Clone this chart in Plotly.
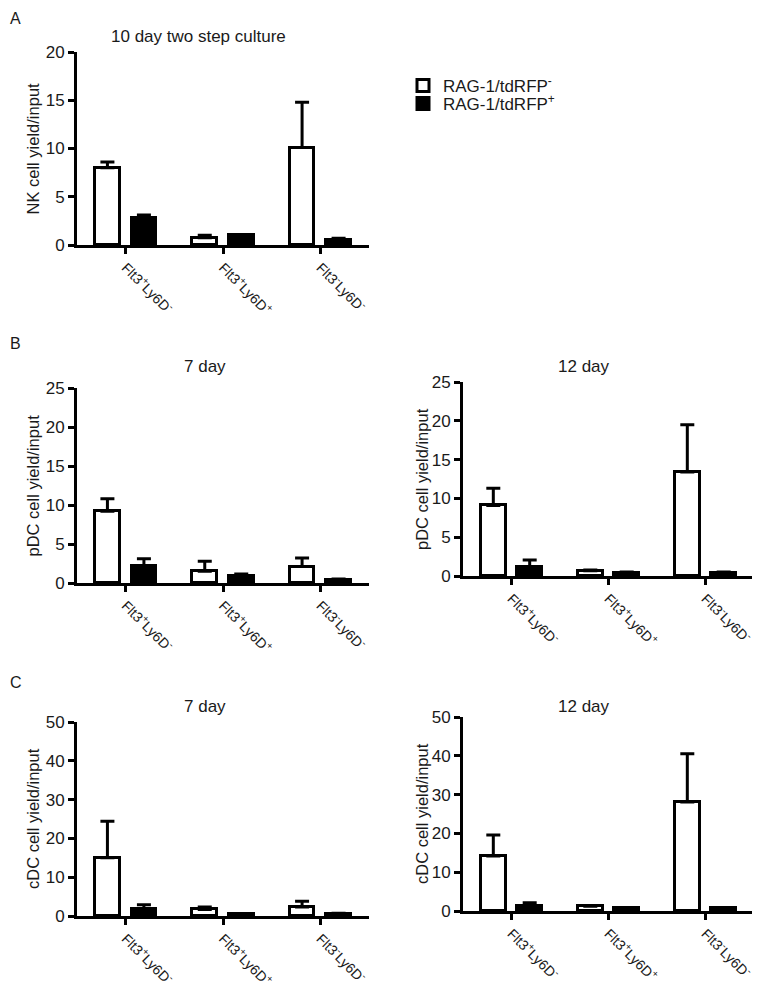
import plotly.graph_objects as go

# ---------------- data ----------------
categories = ["Flt3<sup>+</sup>Ly6D<sup>-</sup>",
              "Flt3<sup>+</sup>Ly6D<sup>+</sup>",
              "Flt3<sup>-</sup>Ly6D<sup>-</sup>"]
series_names = ["RAG-1/tdRFP<sup>-</sup>", "RAG-1/tdRFP<sup>+</sup>"]

nk_neg = [8.0, 0.76, 10.1]
nk_neg_err = [0.6, 0.25, 4.7]
nk_pos = [2.8, 1.05, 0.5]
nk_pos_err = [0.3, 0.05, 0.2]

pdc7_neg = [9.2, 1.5, 2.1]
pdc7_neg_err = [1.6, 1.3, 1.1]
pdc7_pos = [2.2, 0.85, 0.4]
pdc7_pos_err = [0.9, 0.3, 0.1]

pdc12_neg = [9.1, 0.68, 13.4]
pdc12_neg_err = [2.2, 0.1, 6.1]
pdc12_pos = [1.1, 0.43, 0.4]
pdc12_pos_err = [0.95, 0.07, 0.1]

cdc7_neg = [15.0, 1.7, 2.3]
cdc7_neg_err = [9.4, 0.6, 1.5]
cdc7_pos = [1.7, 0.5, 0.5]
cdc7_pos_err = [1.2, 0.1, 0.2]

cdc12_neg = [14.2, 1.2, 28.1]
cdc12_neg_err = [5.4, 0.2, 12.4]
cdc12_pos = [1.3, 0.7, 0.7]
cdc12_pos_err = [0.8, 0.1, 0.1]

panel_titles = ["10 day two step culture", "7 day", "12 day", "7 day", "12 day"]
y_titles = ["NK cell yield/input", "pDC cell yield/input", "pDC cell yield/input",
            "cDC cell yield/input", "cDC cell yield/input"]
y_max = [20, 25, 25, 50, 50]
y_dtick = [5, 5, 5, 10, 10]
panel_letters = ["A", "B", "C"]

panels = [
    (nk_neg, nk_neg_err, nk_pos, nk_pos_err),
    (pdc7_neg, pdc7_neg_err, pdc7_pos, pdc7_pos_err),
    (pdc12_neg, pdc12_neg_err, pdc12_pos, pdc12_pos_err),
    (cdc7_neg, cdc7_neg_err, cdc7_pos, cdc7_pos_err),
    (cdc12_neg, cdc12_neg_err, cdc12_pos, cdc12_pos_err),
]

# ---------------- layout geometry (figure pixels) ----------------
W, H = 760, 990
# (x0, x1, ytop, ybottom)
boxes = [
    (69, 361, 44, 237),
    (69, 361, 380, 575),
    (455, 746, 374, 568),
    (69, 361, 714, 908),
    (455, 746, 709, 903),
]
title_pos = [(190, 29), (197, 358), (576, 358), (197, 698), (576, 698)]
ytitle_x = [25, 25, 414, 25, 414]
# (y pixel, anchor) for panel letters
letter_pos = [(0, "top"), (335, "middle"), (674, "middle")]

FONT = "Arial, Liberation Sans, Helvetica, sans-serif"
INK = "#1a1a1a"

fig = go.Figure()
annotations = []
layout_axes = {}

BW = 0.255
for i, (neg, neg_err, pos, pos_err) in enumerate(panels):
    n = i + 1
    xa = "x" if n == 1 else f"x{n}"
    ya = "y" if n == 1 else f"y{n}"
    fig.add_trace(go.Bar(
        x=categories, y=neg, xaxis=xa, yaxis=ya,
        name=series_names[0], showlegend=(i == 0), legend="legend",
        width=BW, offset=-0.315,
        marker=dict(color="white", line=dict(color="black", width=3)),
        error_y=dict(type="data", array=neg_err, arrayminus=[0] * 3, symmetric=False,
                     color="black", thickness=3, width=7),
    ))
    fig.add_trace(go.Bar(
        x=categories, y=pos, xaxis=xa, yaxis=ya,
        name=series_names[1], showlegend=(i == 0), legend="legend2",
        width=BW, offset=0.06,
        marker=dict(color="black", line=dict(color="black", width=3)),
        error_y=dict(type="data", array=pos_err, arrayminus=[0] * 3, symmetric=False,
                     color="black", thickness=3, width=7),
    ))
    x0, x1, yt, yb = boxes[i]
    xkey = "xaxis" if n == 1 else f"xaxis{n}"
    ykey = "yaxis" if n == 1 else f"yaxis{n}"
    layout_axes[xkey] = dict(
        domain=[x0 / W, x1 / W], anchor=ya, range=[-0.5, 2.5], automargin=False,
        showline=True, linecolor="black", linewidth=3,
        ticks="outside", ticklen=6, tickwidth=2.5, tickcolor="black",
        tickangle=45, tickfont=dict(family=FONT, size=14, color=INK),
        showgrid=False, zeroline=False, fixedrange=True,
    )
    layout_axes[ykey] = dict(
        domain=[1 - yb / H, 1 - yt / H], anchor=xa, range=[0, y_max[i]], dtick=y_dtick[i],
        automargin=False,
        showline=True, linecolor="black", linewidth=3,
        ticks="outside", ticklen=6, tickwidth=2.5, tickcolor="black",
        tickfont=dict(family=FONT, size=17, color=INK),
        showgrid=False, zeroline=False, fixedrange=True,
    )
    tx, ty = title_pos[i]
    annotations.append(dict(text=panel_titles[i], x=tx / W, y=1 - ty / H, xref="paper", yref="paper",
                            xanchor="center", yanchor="middle", showarrow=False,
                            font=dict(family=FONT, size=17, color=INK)))
    annotations.append(dict(text=y_titles[i], x=ytitle_x[i] / W, y=1 - (yt + yb) / 2 / H,
                            xref="paper", yref="paper", textangle=-90,
                            xanchor="center", yanchor="middle", showarrow=False,
                            font=dict(family=FONT, size=16.5, color=INK)))

for letter, (ly, anchor) in zip(panel_letters, letter_pos):
    annotations.append(dict(text=letter, x=0, y=1 - ly / H, xref="paper", yref="paper",
                            xanchor="left", yanchor=anchor, showarrow=False,
                            font=dict(family=FONT, size=16, color=INK)))

legend_style = dict(xanchor="left", yanchor="middle", bgcolor="rgba(0,0,0,0)",
                    font=dict(family=FONT, size=17, color=INK), borderwidth=0)

fig.update_layout(
    template="none",
    width=W, height=H, margin=dict(l=0, r=0, t=0, b=0, autoexpand=False),
    paper_bgcolor="white", plot_bgcolor="white",
    barmode="overlay", bargap=0,
    showlegend=True,
    legend=dict(x=395 / W, y=1 - 78 / H, **legend_style),
    legend2=dict(x=395 / W, y=1 - 96 / H, **legend_style),
    annotations=annotations,
    **layout_axes,
)

fig.write_html("out.html")
